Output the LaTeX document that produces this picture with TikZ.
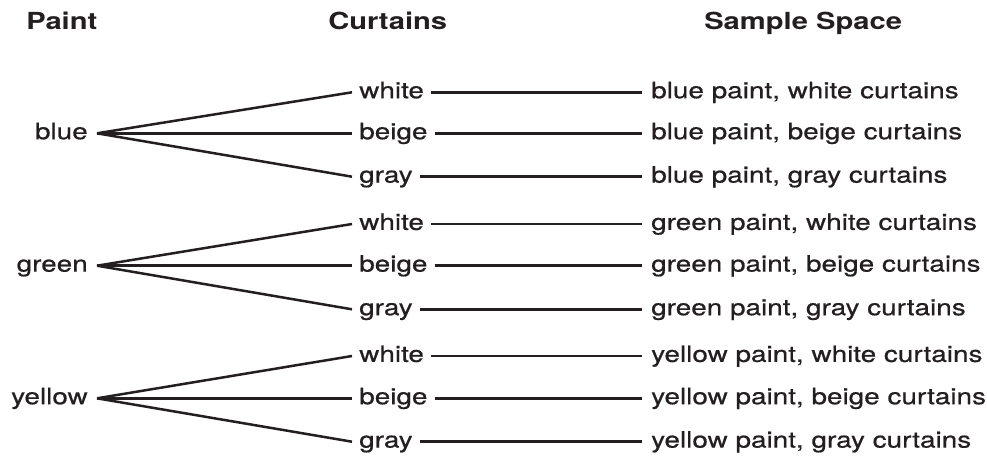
\documentclass[tikz,border=0pt]{standalone}
\usepackage{fontspec}
\setmainfont{TeX Gyre Heros}[FakeStretch=1.24, UprightFeatures={FakeBold=0.6}]
\definecolor{ink}{RGB}{35,31,32}

\begin{document}
\fontsize{22.5}{27}\selectfont
\begin{tikzpicture}[x=1pt, y=-1pt, line width=2.5pt, color=ink,
  head/.style={anchor=base west, inner sep=0pt, font={\fontsize{23.5}{28}\selectfont\bfseries}},
  paint/.style={anchor=mid east, inner xsep=8pt, inner ysep=0pt, font={\fontsize{22.5}{27}\selectfont}},
  curtain/.style={anchor=mid west, inner xsep=6pt, inner ysep=0pt, font={\fontsize{22.5}{27}\selectfont}},
  outcome/.style={anchor=mid west, inner xsep=8pt, inner ysep=0pt, font={\fontsize{22.5}{27}\selectfont}}]
  \useasboundingbox (0,0) rectangle (987,458);
  % column heads
  \node[head] (hpaint) at (25,29) {Paint};
  \node[head] (hcurt) at (327,29) {Curtains};
  \node[head] (hspace) at (703,29) {Sample Space};
  % paint colours
  \node[paint] (blue) at (97,133.3) {blue};
  \node[paint] (green) at (97,265.7) {green};
  \node[paint] (yellow) at (97,398.3) {yellow};
  % curtains
  \node[curtain] (bw) at (352,92.3) {white};
  \node[curtain] (bb) at (352,133.3) {beige};
  \node[curtain] (bg) at (352,176.7) {gray};
  \node[curtain] (gw) at (352,224) {white};
  \node[curtain] (gb) at (352,265.7) {beige};
  \node[curtain] (gg) at (352,309.3) {gray};
  \node[curtain] (yw) at (352,356) {white};
  \node[curtain] (yb) at (352,398.3) {beige};
  \node[curtain] (yg) at (352,441.7) {gray};
  % sample space
  \node[outcome] (sbw) at (642,92.3) {blue paint, white curtains};
  \node[outcome] (sbb) at (642,133.3) {blue paint, beige curtains};
  \node[outcome] (sbg) at (642,176.7) {blue paint, gray curtains};
  \node[outcome] (sgw) at (642,224) {green paint, white curtains};
  \node[outcome] (sgb) at (642,265.7) {green paint, beige curtains};
  \node[outcome] (sgg) at (642,309.3) {green paint, gray curtains};
  \node[outcome] (syw) at (642,356) {yellow paint, white curtains};
  \node[outcome] (syb) at (642,398.3) {yellow paint, beige curtains};
  \node[outcome] (syg) at (642,441.7) {yellow paint, gray curtains};
  % branches
  \draw (blue.mid east) -- (bw.mid west);
  \draw (blue.mid east) -- (bb.mid west);
  \draw (blue.mid east) -- (bg.mid west);
  \draw (green.mid east) -- (gw.mid west);
  \draw (green.mid east) -- (gb.mid west);
  \draw (green.mid east) -- (gg.mid west);
  \draw (yellow.mid east) -- (yw.mid west);
  \draw (yellow.mid east) -- (yb.mid west);
  \draw (yellow.mid east) -- (yg.mid west);
  % outcomes
  \draw (bw.mid east) -- (sbw.mid west);
  \draw (bb.mid east) -- (sbb.mid west);
  \draw (bg.mid east) -- (sbg.mid west);
  \draw (gw.mid east) -- (sgw.mid west);
  \draw (gb.mid east) -- (sgb.mid west);
  \draw (gg.mid east) -- (sgg.mid west);
  \draw (yw.mid east) -- (syw.mid west);
  \draw (yb.mid east) -- (syb.mid west);
  \draw (yg.mid east) -- (syg.mid west);
\end{tikzpicture}
\end{document}
